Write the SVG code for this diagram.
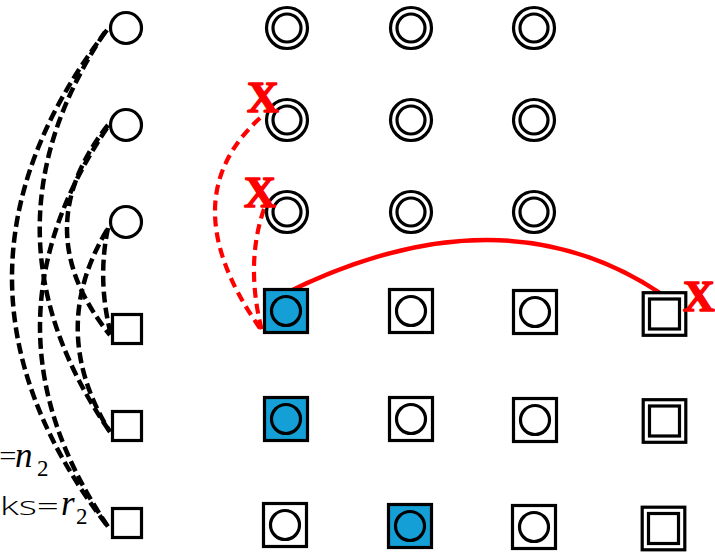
<svg xmlns="http://www.w3.org/2000/svg" width="715" height="552" viewBox="0 0 715 552">
  <style>
    .ring { fill: #ffffff; stroke: #000000; stroke-width: 3.2; }
    .box { fill: #ffffff; stroke: #000000; stroke-width: 3.2; }
    .box.on { fill: #149fd6; }
    .dot { fill: none; stroke: #000000; stroke-width: 3.2; }
    .link { fill: none; stroke: #000000; stroke-width: 4.5; stroke-dasharray: 11 5; }
    .cut { fill: none; stroke: #ff0000; stroke-width: 4.2; stroke-dasharray: 10 6; }
    .keep { fill: none; stroke: #ff0000; stroke-width: 4.5; }
    .mark { font-family: "Liberation Serif", "DejaVu Serif", serif; font-weight: bold; font-size: 44px; fill: #ff0000; stroke: #ff0000; stroke-width: 1.6; stroke-linejoin: round; text-anchor: middle; }
    .lbl { font-family: "Open Sans", "DejaVu Sans", sans-serif; font-weight: 300; font-size: 26px; fill: #000000; }
    .eq { font-family: "Open Sans", "DejaVu Sans", sans-serif; font-weight: 300; font-size: 31px; fill: #000000; }
    .math { font-family: "Liberation Serif", "DejaVu Serif", serif; font-style: italic; font-size: 35px; fill: #000000; }
    .sub { font-family: "Liberation Serif", "DejaVu Serif", serif; font-size: 23px; fill: #000000; }
  </style>
  <defs>
    <g id="dring">
      <circle class="ring" r="20.5"/>
      <circle class="ring" r="14"/>
    </g>
    <g id="dsq">
      <rect class="box" x="-21.3" y="-21.3" width="42.6" height="42.6"/>
      <rect class="box" x="-15" y="-15" width="30" height="30"/>
    </g>
  </defs>

  <!-- connectors -->
  <g id="connectors">
    <path class="link" d="M107,30 Q-84,279 109,528"/>
    <path class="link" d="M105,32 Q-28,232 110,432"/>
    <path class="link" d="M108,125 Q25,230 110,335"/>
    <path class="link" d="M107,128 Q-28,328 109,528"/>
    <path class="link" d="M108,228 Q97,280 111,335"/>
    <path class="link" d="M107,230 Q47,330 110,432"/>
    <path class="cut" d="M260,118 Q169,201 262,331"/>
    <path class="cut" d="M264,209 Q245,264 262,331"/>
    <path class="keep" d="M282,295 Q499,186 660,293"/>
  </g>

  <!-- left column: circles and squares -->
  <g id="c1"><circle class="ring" cx="126" cy="28" r="15.5"/></g>
  <g id="c2"><circle class="ring" cx="126" cy="125" r="15.5"/></g>
  <g id="c3"><circle class="ring" cx="126" cy="222" r="15.5"/></g>
  <g id="s1"><rect class="box" x="112.5" y="314.5" width="29" height="29"/></g>
  <g id="s2"><rect class="box" x="112.5" y="411.5" width="29" height="29"/></g>
  <g id="s3"><rect class="box" x="112.5" y="508.5" width="29" height="29"/></g>

  <!-- double rings -->
  <g id="r11"><use href="#dring" x="287" y="28"/></g>
  <g id="r12"><use href="#dring" x="411" y="28"/></g>
  <g id="r13"><use href="#dring" x="534" y="28"/></g>
  <g id="r21"><use href="#dring" x="287" y="120"/></g>
  <g id="r22"><use href="#dring" x="411" y="120"/></g>
  <g id="r23"><use href="#dring" x="534" y="120"/></g>
  <g id="r31"><use href="#dring" x="287" y="212"/></g>
  <g id="r32"><use href="#dring" x="411" y="212"/></g>
  <g id="r33"><use href="#dring" x="534" y="212"/></g>

  <!-- boxed dots -->
  <g id="b11"><rect class="box on" x="264.5" y="289.5" width="43" height="43"/><circle class="dot" cx="286" cy="311" r="14.5"/></g>
  <g id="b12"><rect class="box" x="389.5" y="289.5" width="43" height="43"/><circle class="dot" cx="411" cy="311" r="14.5"/></g>
  <g id="b13"><rect class="box" x="513.5" y="290.5" width="43" height="43"/><circle class="dot" cx="535" cy="312" r="14.5"/></g>
  <g id="b21"><rect class="box on" x="264.5" y="397.5" width="43" height="43"/><circle class="dot" cx="286" cy="419" r="14.5"/></g>
  <g id="b22"><rect class="box" x="389.5" y="397.5" width="43" height="43"/><circle class="dot" cx="411" cy="419" r="14.5"/></g>
  <g id="b23"><rect class="box" x="513.5" y="398.5" width="43" height="43"/><circle class="dot" cx="535" cy="420" r="14.5"/></g>
  <g id="b31"><rect class="box" x="263.5" y="503.5" width="43" height="43"/><circle class="dot" cx="285" cy="525" r="14.5"/></g>
  <g id="b32"><rect class="box on" x="388.5" y="504.5" width="43" height="43"/><circle class="dot" cx="410" cy="526" r="14.5"/></g>
  <g id="b33"><rect class="box" x="512.5" y="505.5" width="43" height="43"/><circle class="dot" cx="534" cy="527" r="14.5"/></g>

  <!-- double squares -->
  <g id="q1"><use href="#dsq" x="664.5" y="314"/></g>
  <g id="q2"><use href="#dsq" x="664.5" y="421"/></g>
  <g id="q3"><use href="#dsq" x="663.5" y="528.5"/></g>

  <!-- removal marks -->
  <g id="x1"><text class="mark" x="263" y="112">X</text></g>
  <g id="x2"><text class="mark" x="260" y="207">X</text></g>
  <g id="x3"><text class="mark" x="699" y="311">X</text></g>

  <!-- side labels -->
  <g id="labels">
    <text class="eq" x="-1" y="467">=</text>
    <text class="math" x="15" y="467">n</text>
    <text class="sub" x="37" y="476">2</text>
    <text class="lbl" x="0" y="515" textLength="59" lengthAdjust="spacingAndGlyphs">ks=</text>
    <text class="math" x="61" y="515">r</text>
    <text class="sub" x="76" y="524">2</text>
  </g>
</svg>
